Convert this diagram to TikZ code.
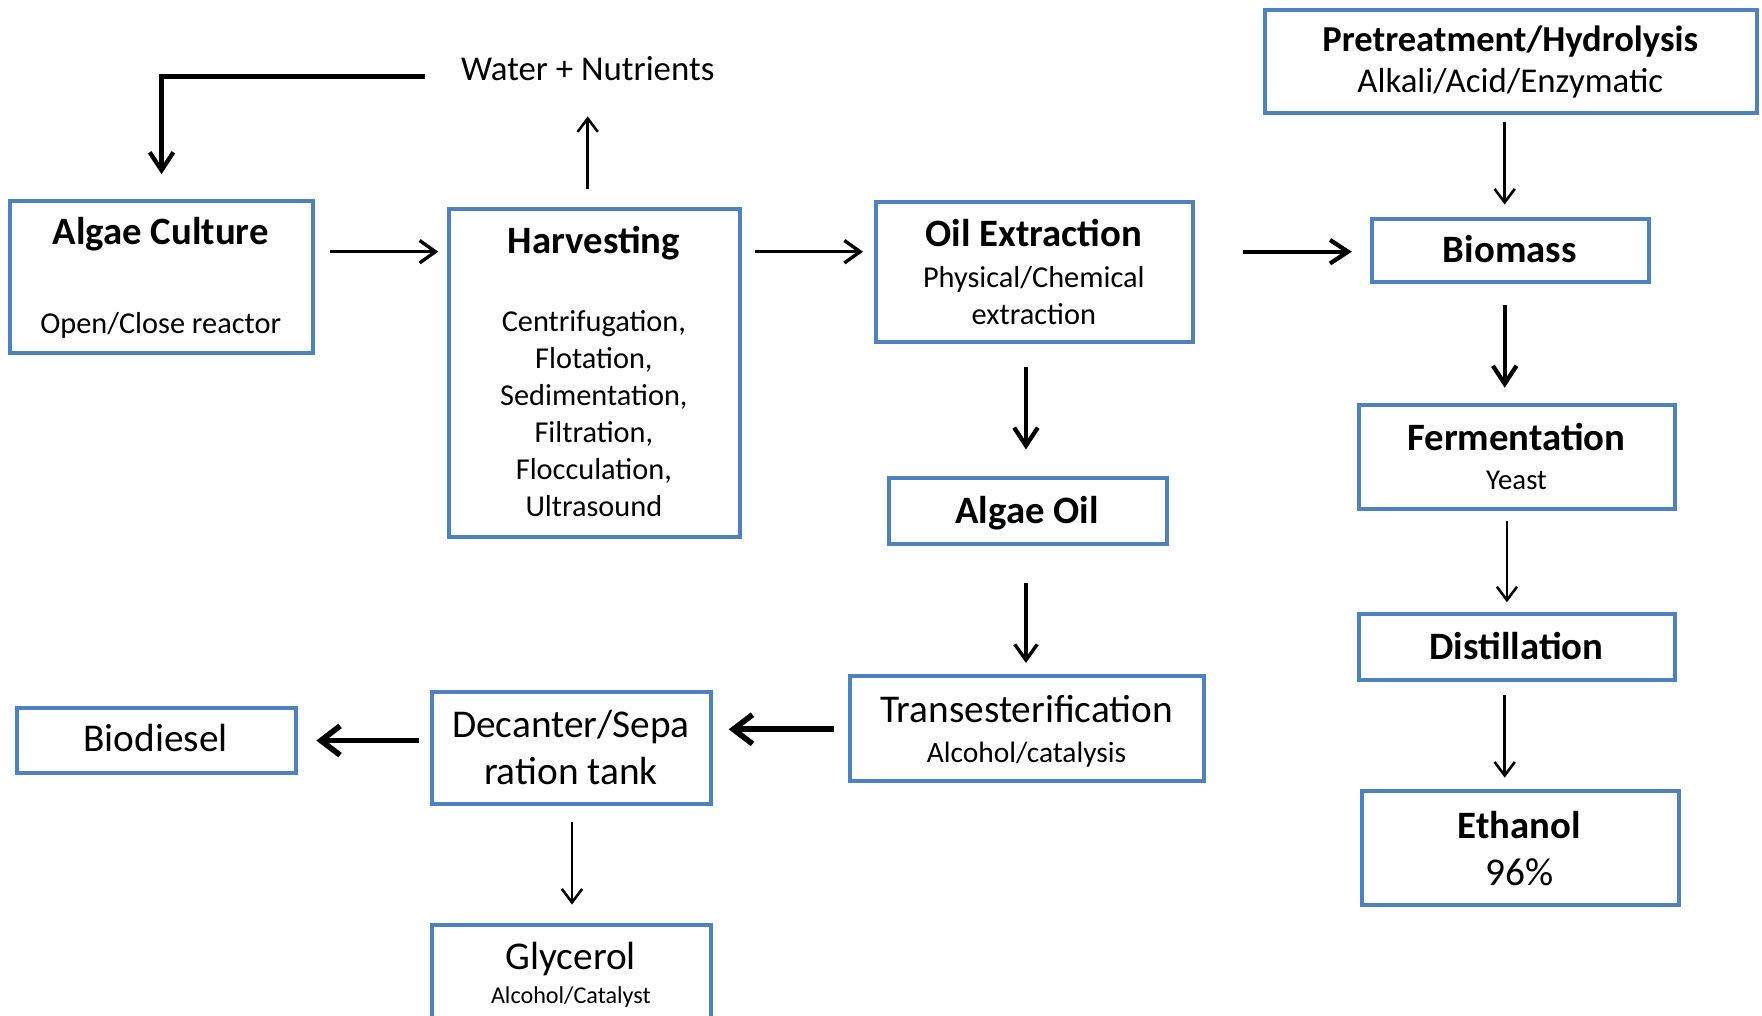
\documentclass[tikz,border=0pt]{standalone}
\usepackage{fontspec}
\setmainfont{Carlito}
\usetikzlibrary{arrows.meta}
\definecolor{boxblue}{RGB}{79,129,189}
\begin{document}
\begin{tikzpicture}[x=1pt,y=1pt,
  box/.style={draw=boxblue, line width=3.5pt, fill=white, anchor=north west, inner sep=0pt},
  hd/.style={font=\fontsize{34.5}{40}\selectfont\bfseries, anchor=base, inner sep=0pt},
  bigtxt/.style={font=\fontsize{35}{40}\selectfont, anchor=base, inner sep=0pt},
  subtxt/.style={font=\fontsize{27}{32}\selectfont, anchor=base, inner sep=0pt},
  arrthin/.style={line width=2.3pt, -{Straight Barb[length=12pt,width=18pt]}},
  arrmid/.style={line width=3pt, -{Straight Barb[length=14pt,width=20pt]}},
  arrthick/.style={line width=3.8pt, -{Straight Barb[length=16pt,width=21pt]}},
  arrheavy/.style={line width=5pt, -{Straight Barb[length=17pt,width=26pt]}}
]
\clip (0,0) rectangle (1568,-904);
\fill[white] (0,0) rectangle (1568,-904);

% boxes
\node[box, minimum width=270, minimum height=135] (ac) at (7,-177) {};
\node[box, minimum width=259, minimum height=292] (harv) at (398,-184) {};
\node[box, minimum width=282, minimum height=125] (oil) at (778,-178) {};
\node[box, minimum width=438, minimum height=92] (pre) at (1124,-7) {};
\node[box, minimum width=247, minimum height=56] (bio) at (1219,-193) {};
\node[box, minimum width=281, minimum height=92] (ferm) at (1208,-359) {};
\node[box, minimum width=281, minimum height=58] (dist) at (1208,-545) {};
\node[box, minimum width=282, minimum height=102] (eth) at (1210,-702) {};
\node[box, minimum width=248, minimum height=58] (aoil) at (789,-424) {};
\node[box, minimum width=315, minimum height=93] (trans) at (755,-600) {};
\node[box, minimum width=248, minimum height=100] (dec) at (383,-614) {};
\node[box, minimum width=249, minimum height=58] (biod) at (13,-628) {};
\node[box, minimum width=248, minimum height=100] (gly) at (383,-821) {};

% texts
\node[font=\fontsize{31}{36}\selectfont, anchor=base, inner sep=0pt] (water) at (523,-72) {Water + Nutrients};

\node[hd] (acT) at (143,-218) {Algae Culture};
\node[subtxt] (acS) at (143,-297) {Open/Close reactor};

\node[hd] (hvT) at (528.5,-226) {Harvesting};
\node[subtxt] (hv1) at (528.5,-295) {Centrifugation,};
\node[subtxt] (hv2) at (528.5,-328) {Flotation,};
\node[subtxt] (hv3) at (528.5,-361) {Sedimentation,};
\node[subtxt] (hv4) at (528.5,-394) {Filtration,};
\node[subtxt] (hv5) at (528.5,-427) {Flocculation,};
\node[subtxt] (hv6) at (528.5,-460) {Ultrasound};

\node[hd] (oilT) at (920,-219) {Oil Extraction};
\node[subtxt] (oil1) at (920,-256) {Physical/Chemical};
\node[subtxt] (oil2) at (920,-289) {extraction};

\node[font=\fontsize{32.5}{38}\selectfont\bfseries, anchor=base, inner sep=0pt] (preT) at (1344,-45.5) {Pretreatment/Hydrolysis};
\node[font=\fontsize{31}{36}\selectfont, anchor=base, inner sep=0pt] (preS) at (1344,-82) {Alkali/Acid/Enzymatic};

\node[hd] (bioT) at (1343.5,-234) {Biomass};
\node[hd] (fermT) at (1349.5,-401) {Fermentation};
\node[font=\fontsize{25.6}{30}\selectfont, anchor=base, inner sep=0pt] (fermS) at (1349.5,-436) {Yeast};
\node[hd] (distT) at (1349.5,-587) {Distillation};
\node[hd] (ethT) at (1352,-746) {Ethanol};
\node[bigtxt] (ethS) at (1352,-788) {96\%};

\node[hd] (aoilT) at (914,-466) {Algae Oil};
\node[bigtxt] (transT) at (913.5,-643) {Transesterification};
\node[font=\fontsize{26.2}{30}\selectfont, anchor=base, inner sep=0pt] (transS) at (913.5,-678.5) {Alcohol/catalysis};
\node[bigtxt] (dec1) at (508,-656) {Decanter/Sepa};
\node[bigtxt] (dec2) at (508,-698) {ration tank};
\node[bigtxt] (biodT) at (138.5,-669) {Biodiesel};
\node[bigtxt] (glyT) at (508,-863) {Glycerol};
\node[font=\fontsize{21.5}{26}\selectfont, anchor=base, inner sep=0pt] (glyS) at (508,-893) {Alcohol/Catalyst};

% connectors
\draw[arrthick, shorten <=32pt, shorten >=22pt] (water.west |- 0,-68) -| (ac.north);
\draw[arrthin, shorten <=16pt, shorten >=31pt] (harv.north -| water.south) -- (water.south);
\draw[arrmid, shorten <=13pt, shorten >=8pt] (ac.east |- 0,-224) -- (harv.west |- 0,-224);
\draw[arrmid, shorten <=11pt, shorten >=10pt] (harv.east |- 0,-224) -- (oil.west |- 0,-224);
\draw[arrthick, shorten <=43pt, shorten >=16pt] (oil.east |- 0,-224) -- (bio.west |- 0,-224);
\draw[arrthin, shorten <=6pt, shorten >=11pt] (pre.south -| 1339,0) -- (bio.north -| 1339,0);
\draw[arrthick, shorten <=19pt, shorten >=14pt] (bio.south -| 1339,0) -- (ferm.north -| 1339,0);
\draw[arrthin, shorten <=9pt, shorten >=9pt] (ferm.south -| 1341,0) -- (dist.north -| 1341,0);
\draw[arrthin, shorten <=12pt, shorten >=10pt] (dist.south -| 1339,0) -- (eth.north -| 1339,0);
\draw[arrthick, shorten <=20pt, shorten >=24pt] (oil.south -| 913,0) -- (aoil.north -| 913,0);
\draw[arrmid, shorten <=33pt, shorten >=10pt] (aoil.south -| 913,0) -- (trans.north -| 913,0);
\draw[arrheavy, shorten <=13pt, shorten >=14pt] (trans.west |- 0,-649) -- (dec.east |- 0,-649);
\draw[arrheavy, shorten <=10pt, shorten >=16pt] (dec.west |- 0,-659) -- (biod.east |- 0,-659);
\draw[arrthin, shorten <=14pt, shorten >=16pt] (dec.south -| 509,0) -- (gly.north -| 509,0);
\end{tikzpicture}
\end{document}
